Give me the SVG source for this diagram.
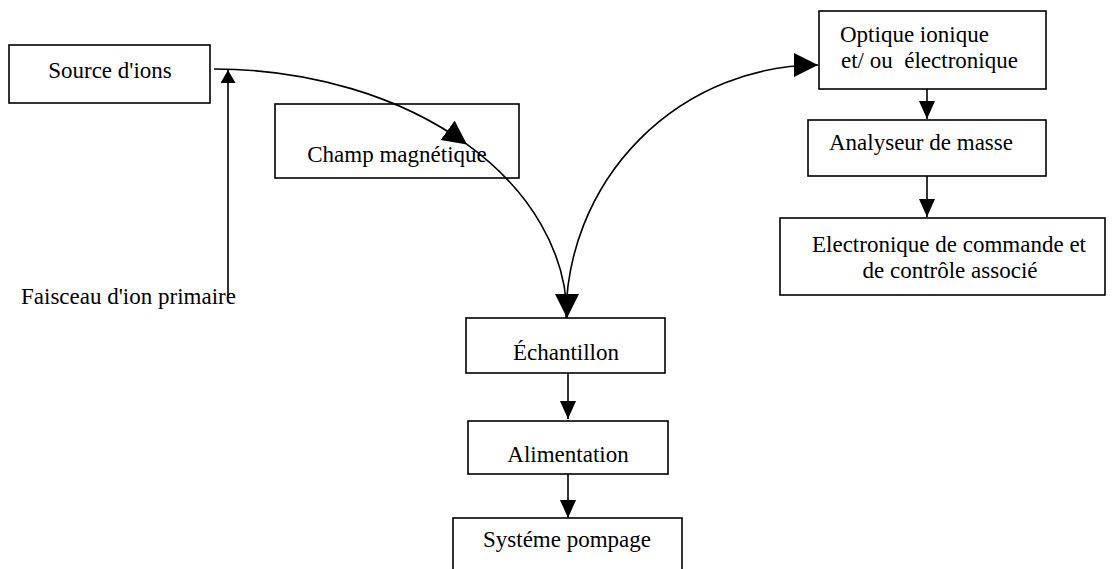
<svg xmlns="http://www.w3.org/2000/svg" width="1120" height="569" viewBox="0 0 1120 569">
<style>
.box{fill:#fff;stroke:#000;stroke-width:1.6}
.ln{fill:none;stroke:#000;stroke-width:1.6}
text{font-family:"Liberation Serif","Times New Roman",serif;font-size:23px;fill:#000;white-space:pre}
.c{text-anchor:middle}
</style>
<defs>
<marker id="big" markerUnits="userSpaceOnUse" markerWidth="25" markerHeight="25" refX="24" refY="12" orient="auto" viewBox="0 0 25 25"><path d="M0,0 L24,12 L0,24 z" fill="#000"/></marker>
<marker id="sm" markerUnits="userSpaceOnUse" markerWidth="19" markerHeight="17" refX="18" refY="8" orient="auto" viewBox="0 0 19 17"><path d="M0,0 L18,8 L0,16 z" fill="#000"/></marker>
<marker id="fs" markerUnits="userSpaceOnUse" markerWidth="14" markerHeight="16" refX="13" refY="7.5" orient="auto" viewBox="0 0 14 16"><path d="M0,0 L13,7.5 L0,15 z" fill="#000"/></marker>
</defs>
<rect width="1120" height="569" fill="#fff"/>
<g id="source"><rect class="box" x="9" y="45" width="201" height="58"/><text class="c" x="110" y="78">Source d'ions</text></g>
<g id="champ"><rect class="box" x="275" y="104" width="244" height="74"/><text class="c" x="397" y="162">Champ magnétique</text></g>
<g id="faisceau"><text x="21" y="304">Faisceau d'ion primaire</text></g>
<g id="echantillon"><rect class="box" x="466" y="318" width="199" height="55"/><text class="c" x="566" y="360">Échantillon</text></g>
<g id="alimentation"><rect class="box" x="468" y="421" width="200" height="53"/><text class="c" x="568" y="462">Alimentation</text></g>
<g id="pompage"><rect class="box" x="453" y="518" width="229" height="70"/><text class="c" x="567" y="547">Systéme pompage</text></g>
<g id="optique"><rect class="box" x="819" y="11" width="227" height="78"/><text x="840" y="42">Optique ionique</text><text x="841" y="68">et/ ou  électronique</text></g>
<g id="analyseur"><rect class="box" x="808" y="120" width="238" height="56"/><text x="829" y="150">Analyseur de masse</text></g>
<g id="electronique"><rect class="box" x="780" y="218" width="325" height="77"/><text class="c" x="949" y="252">Electronique de commande et</text><text class="c" x="950" y="278">de contrôle associé</text></g>
<g id="connectors">
<path class="ln" d="M228,296 L228,70" marker-end="url(#fs)"/>
<path class="ln" d="M214,69 A353,249 0 0 1 467,144.4" marker-end="url(#big)"/>
<path class="ln" d="M467,144.4 A353,249 0 0 1 567,318" marker-end="url(#big)"/>
<path class="ln" d="M566,318 A252,253 0 0 1 818,65" marker-end="url(#big)"/>
<path class="ln" d="M568,373 L568,419" marker-end="url(#sm)"/>
<path class="ln" d="M568,474 L568,518" marker-end="url(#sm)"/>
<path class="ln" d="M927,89 L927,119" marker-end="url(#sm)"/>
<path class="ln" d="M927,176 L927,217" marker-end="url(#sm)"/>
</g>
</svg>
